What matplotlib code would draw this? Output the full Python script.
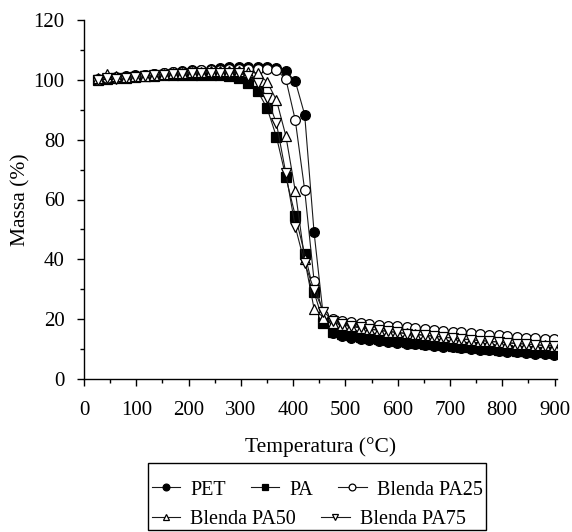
import matplotlib
matplotlib.use('Agg')
import matplotlib.pyplot as plt
from matplotlib.patches import Rectangle
from matplotlib.ticker import MultipleLocator

plt.rcParams['font.family'] = ['Liberation Serif', 'DejaVu Serif']

# temperatura (°C) de cada ponto registrado
temp = [26, 44, 62, 80, 98, 116, 134, 152, 170, 188,
        206, 224, 242, 260, 278, 296, 314, 332, 350, 368,
        386, 404, 422, 440, 458, 476, 494, 511, 529, 546,
        564, 582, 599, 617, 634, 652, 670, 687, 705, 722,
        740, 758, 775, 793, 810, 828, 846, 863, 881, 899]

# massa residual (%)
pet = [100.2, 100.6, 100.9, 101.2, 101.5, 101.8, 102.1, 102.4, 102.7, 103.0,
       103.2, 103.5, 103.7, 104.0, 104.2, 104.4, 104.5, 104.5, 104.3, 104.0,
       103.0, 99.6, 88.4, 49.0, 20.5, 15.2, 14.3, 13.8, 13.4, 13.0,
       12.7, 12.4, 12.1, 11.8, 11.5, 11.3, 11.0, 10.7, 10.5, 10.2,
       10.0, 9.7, 9.5, 9.3, 9.0, 8.8, 8.6, 8.4, 8.2, 8.0]
pa = [100.0, 100.4, 100.6, 100.8, 101.0, 101.2, 101.4, 101.5, 101.6, 101.7,
      101.8, 101.8, 101.8, 101.7, 101.4, 100.7, 99.0, 96.3, 90.6, 81.0,
      67.5, 54.6, 41.8, 29.0, 18.8, 15.8, 15.0, 14.5, 14.1, 13.7,
      13.3, 13.0, 12.7, 12.4, 12.1, 11.8, 11.5, 11.2, 11.0, 10.7,
      10.5, 10.2, 10.0, 9.8, 9.6, 9.4, 9.2, 9.0, 8.9, 8.7]
pa25 = [100.0, 100.5, 100.8, 101.1, 101.4, 101.7, 102.0, 102.3, 102.6, 102.8,
        103.0, 103.2, 103.4, 103.5, 103.6, 103.7, 103.8, 103.8, 103.7, 103.3,
        100.3, 86.6, 63.2, 32.8, 21.5, 20.0, 19.5, 19.1, 18.7, 18.4,
        18.1, 17.8, 17.5, 17.2, 16.9, 16.6, 16.4, 16.1, 15.8, 15.6,
        15.3, 15.0, 14.8, 14.5, 14.3, 14.0, 13.8, 13.6, 13.4, 13.2]
pa50 = [100.5, 102.0, 101.2, 101.0, 101.2, 101.4, 101.7, 102.0, 102.2, 102.4,
        102.6, 102.8, 103.0, 103.1, 103.1, 102.9, 102.8, 102.2, 99.4, 93.3,
        81.3, 62.9, 40.0, 23.4, 20.5, 18.8, 18.0, 17.5, 17.0, 16.6,
        16.2, 15.8, 15.5, 15.2, 14.9, 14.6, 14.3, 14.0, 13.7, 13.4,
        13.1, 12.8, 12.6, 12.3, 12.1, 11.8, 11.6, 11.4, 11.2, 11.0]
pa75 = [100.0, 100.6, 100.4, 100.6, 100.9, 101.2, 101.5, 101.7, 101.9, 102.1,
        102.3, 102.4, 102.5, 102.5, 102.4, 102.2, 101.4, 98.9, 94.1, 85.5,
        68.8, 50.9, 38.7, 29.8, 22.5, 19.5, 18.3, 17.7, 17.2, 16.7,
        16.3, 15.9, 15.5, 15.1, 14.8, 14.5, 14.2, 13.9, 13.6, 13.3,
        13.0, 12.8, 12.5, 12.3, 12.0, 11.8, 11.6, 11.4, 11.1, 10.9]

series = [
    ('PET', pet, 'o', 'black'),
    ('PA', pa, 's', 'black'),
    ('Blenda PA25', pa25, 'o', 'white'),
    ('Blenda PA50', pa50, '^', 'white'),
    ('Blenda PA75', pa75, 'v', 'white'),
]

fig = plt.figure(figsize=(5.72, 5.32), dpi=100)
ax = fig.add_axes([0.147, 0.288, 0.827, 0.674])

handles = {}
for name, vals, mk, fc in series:
    ln, = ax.plot(temp, vals, color='#1a1a1a', lw=0.8, marker=mk,
                  markersize=7, markerfacecolor=fc, markeredgecolor='black',
                  markeredgewidth=0.9)
    handles[name] = ln

ax.set_xlim(0, 905)
ax.set_ylim(0, 120)
ax.xaxis.set_major_locator(MultipleLocator(100))
ax.xaxis.set_minor_locator(MultipleLocator(50))
ax.yaxis.set_major_locator(MultipleLocator(20))
ax.yaxis.set_minor_locator(MultipleLocator(10))
ax.tick_params(which='major', direction='out', length=5, width=1,
               labelsize=15)
ax.tick_params(axis='x', which='major', pad=11)
ax.tick_params(axis='y', which='major', pad=9)
ax.tick_params(which='minor', direction='out', length=3, width=1)
for side in ('top', 'right'):
    ax.spines[side].set_visible(False)
for side in ('left', 'bottom'):
    ax.spines[side].set_linewidth(1)

ax.set_xlabel('Temperatura (°C)', fontsize=15.5, labelpad=12)
ax.set_ylabel('Massa (%)', fontsize=15.5, labelpad=2)

# legenda em duas linhas, dentro de uma moldura comum
leg_kw = dict(frameon=False, fontsize=14.5, handlelength=1.4, handletextpad=0.5,
              columnspacing=1.25, markerscale=0.7, borderpad=0, borderaxespad=0,
              loc='center left')
row1 = ['PET', 'PA', 'Blenda PA25']
row2 = ['Blenda PA50', 'Blenda PA75']
fig.legend([handles[n] for n in row1], row1, ncol=3,
           bbox_to_anchor=(0.266, 0.079), **leg_kw)
fig.legend([handles[n] for n in row2], row2, ncol=2,
           bbox_to_anchor=(0.266, 0.023), **leg_kw)
fig.patches.append(Rectangle((0.259, 0.003), 0.591, 0.127, transform=fig.transFigure,
                             fill=False, edgecolor='black', lw=1))

fig.savefig('out.png', dpi=100)
